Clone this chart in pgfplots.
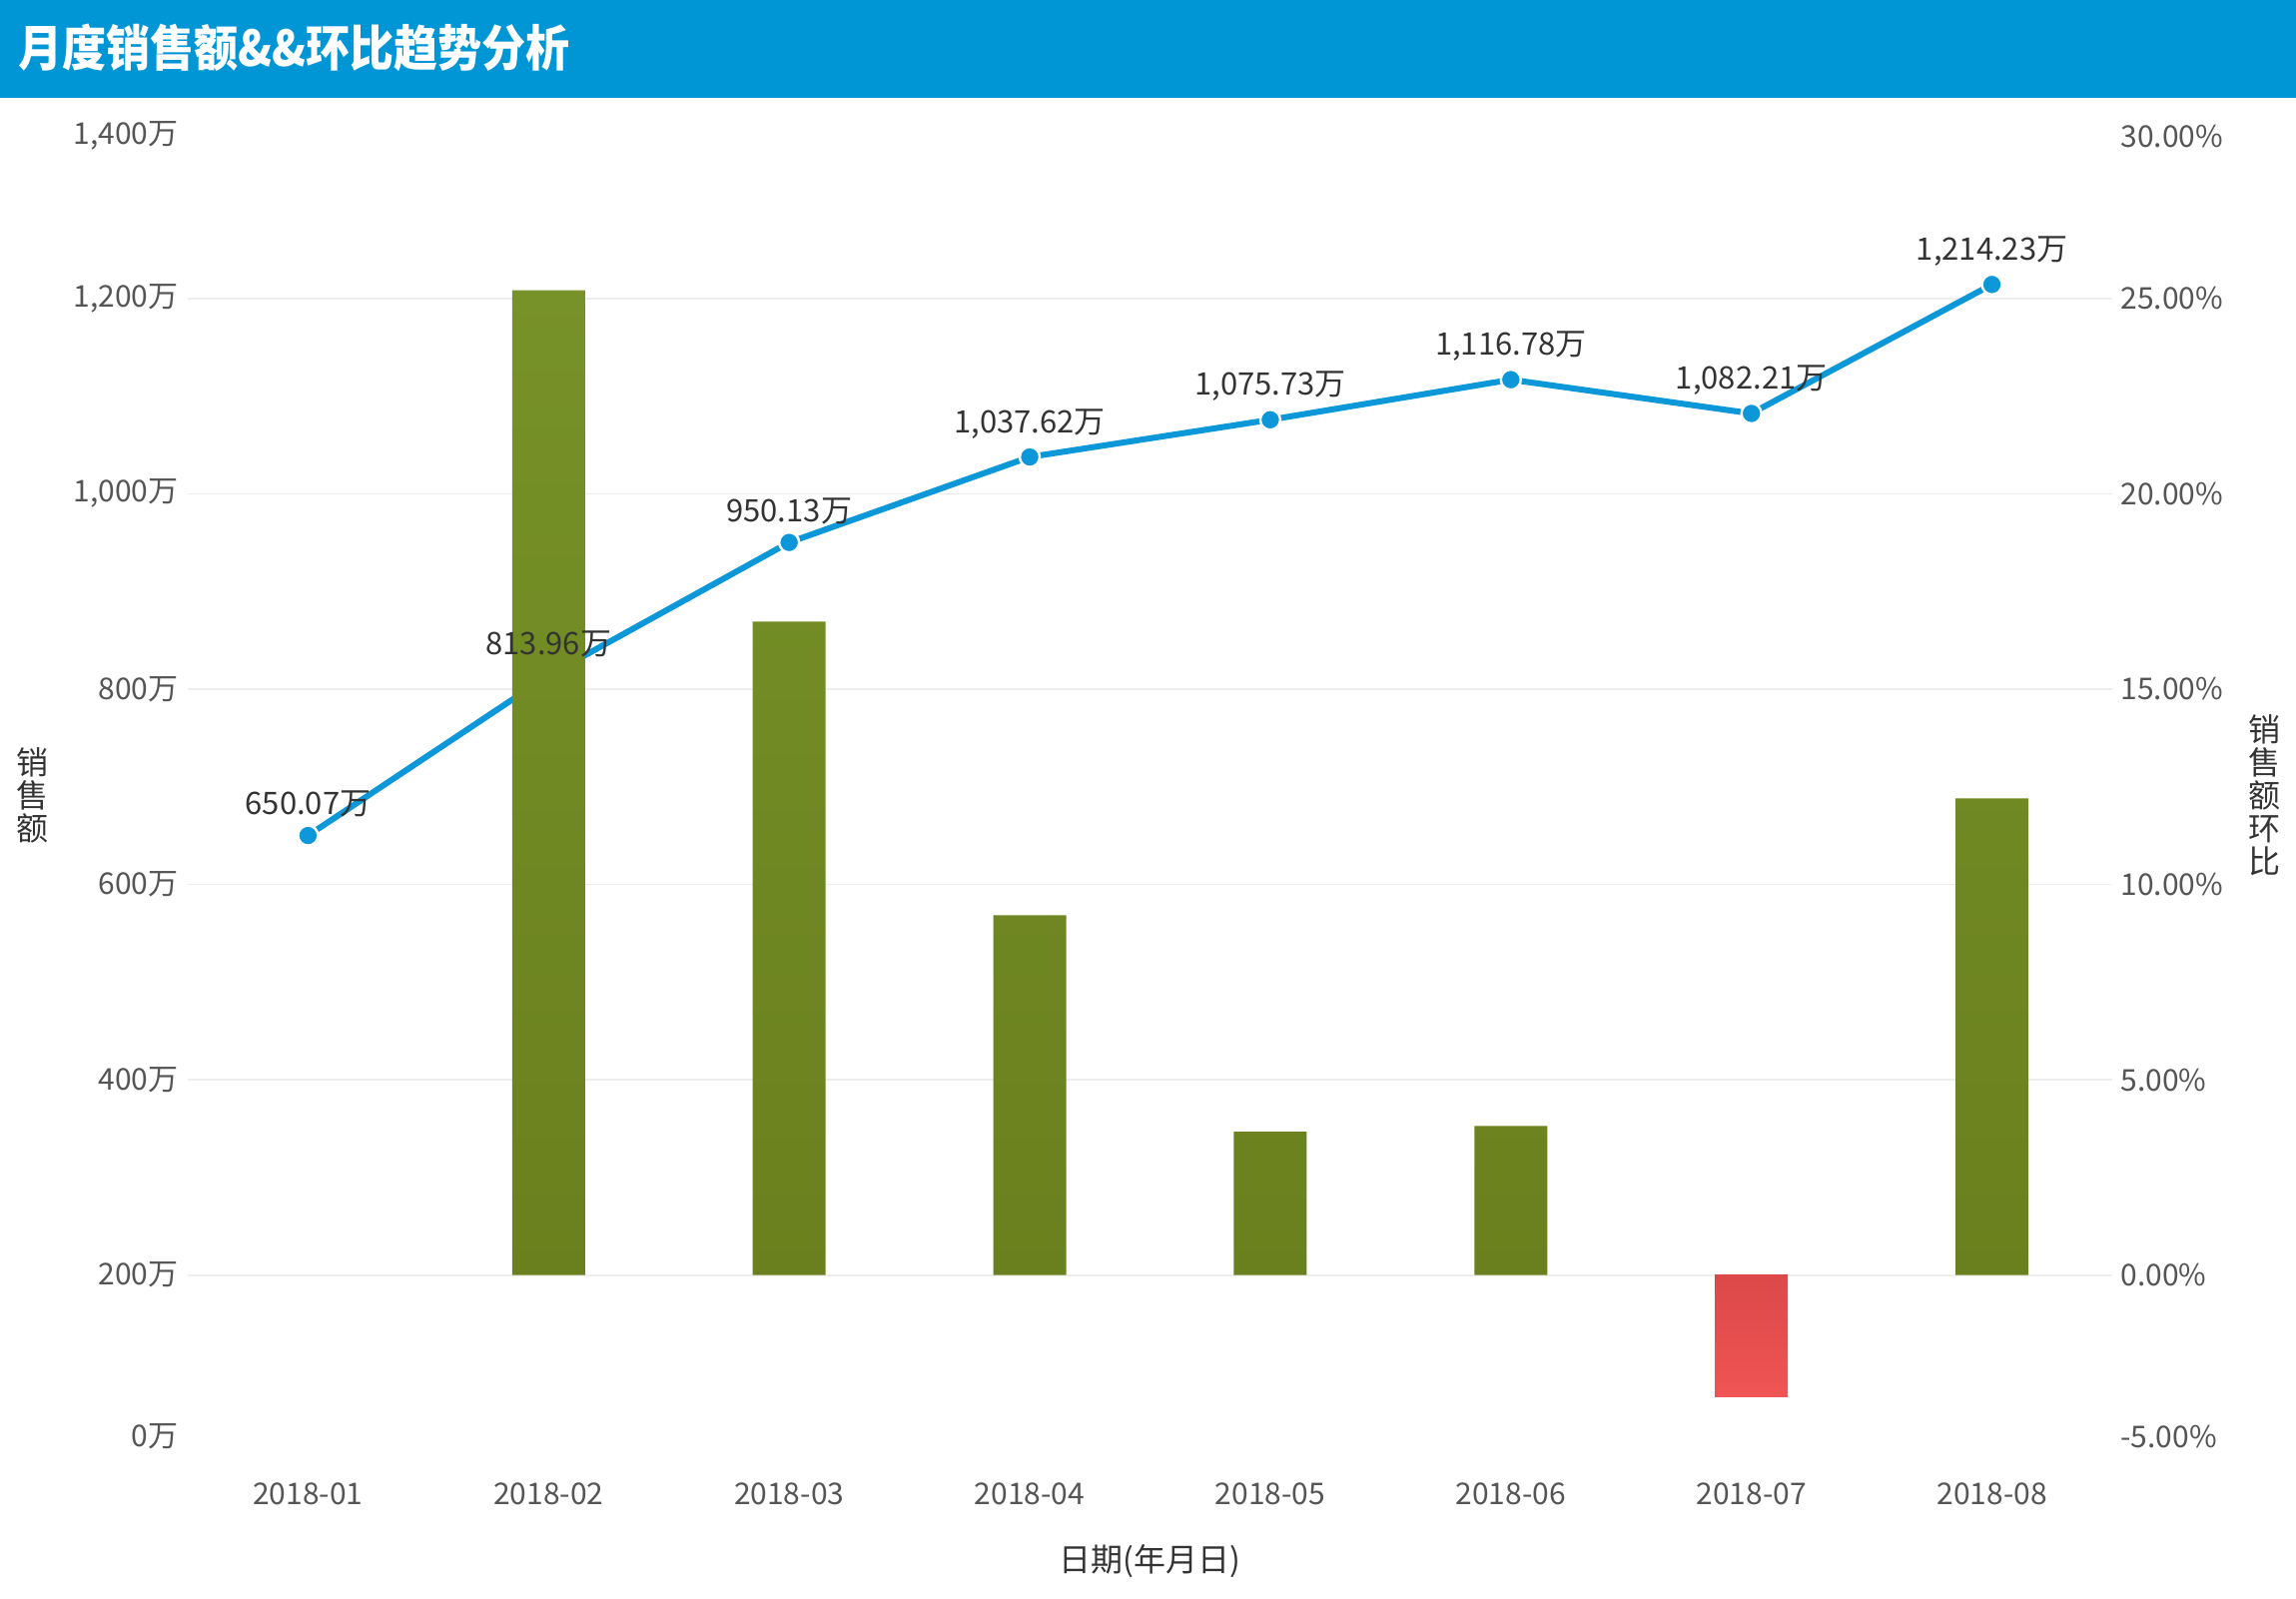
\documentclass[border=0pt]{standalone}
\usepackage{pgfplots}
\pgfplotsset{compat=1.18}
\usepackage{fontspec}
\setmainfont{Noto Sans CJK SC}
\usepackage{graphicx}
\definecolor{titleblue}{RGB}{0,150,214}
\definecolor{lineblue}{RGB}{12,152,216}
\definecolor{gtop}{RGB}{119,146,40}
\definecolor{gbot}{RGB}{106,128,30}
\definecolor{rtop}{RGB}{220,72,72}
\definecolor{rbot}{RGB}{240,84,84}
\definecolor{gridc}{RGB}{238,238,238}
\definecolor{tickc}{RGB}{85,85,85}
\definecolor{labc}{RGB}{51,51,51}
\pgfplotsset{common/.style={at={(94bp,-719bp)}, anchor=south west, scale only axis,
  width=963.5bp, height=651bp, xmin=-0.5, xmax=7.5,
  axis line style={draw=none}, major tick length=0pt, clip=false}}
\begin{document}
\begin{tikzpicture}
\useasboundingbox (0,0) rectangle (1149.5bp,-800.5bp);
\fill[white] (0,0) rectangle (1149.5bp,-800.5bp);
\fill[titleblue] (0,0) rectangle (1149.5bp,-49bp);
\node[anchor=west, text=white, inner sep=0pt, font=\fontsize{22bp}{24bp}\selectfont\bfseries] at (9bp,-24bp) {\scalebox{1}[1.12]{月度销售额\&\&环比趋势分析}};

% line: sales (left axis)
\begin{axis}[common, ymin=35.1, ymax=1366.4,
  xtick={0,1,2,3,4,5,6,7},
  xticklabels={2018-01,2018-02,2018-03,2018-04,2018-05,2018-06,2018-07,2018-08},
  xticklabel style={anchor=north, inner sep=0pt, yshift=-23bp, text=tickc, font=\fontsize{15bp}{17bp}\selectfont},
  ytick={200,400,600,800,1000,1200},
  yticklabels={{200万},{400万},{600万},{800万},{1,000万},{1,200万}},
  extra y ticks={35.1,1366.4},
  extra y tick labels={{0万},{1,400万}},
  extra y tick style={grid=none},
  ymajorgrids, grid style={gridc, line width=0.8bp},
  yticklabel pos=left,
  yticklabel style={anchor=east, inner sep=0pt, xshift=-4.5bp, text=tickc, font=\fontsize{15bp}{17bp}\selectfont}]
\addplot[color=lineblue, line width=3bp, mark=*, mark size=5bp,
  mark options={fill=lineblue, draw=white, line width=1.2bp}]
  coordinates {(0,650.07) (1,813.96) (2,950.13) (3,1037.62) (4,1075.73) (5,1116.78) (6,1082.21) (7,1214.23)};
\end{axis}

% bars: month-over-month ratio (right axis)
\begin{axis}[common, ymin=-4.123, ymax=29.16,
  xtick=\empty,
  ytick={-4.123,0,5,10,15,20,25,29.16},
  yticklabels={{-5.00\%},{0.00\%},{5.00\%},{10.00\%},{15.00\%},{20.00\%},{25.00\%},{30.00\%}},
  yticklabel pos=right,
  yticklabel style={anchor=west, inner sep=0pt, xshift=4bp, text=tickc, font=\fontsize{15bp}{17bp}\selectfont}]
\addplot[ybar, bar width=36.5bp, bar shift=0pt, draw=none, top color=gtop, bottom color=gbot]
  coordinates {(1,25.21) (2,16.73) (3,9.21) (4,3.67) (5,3.82) (7,12.20)};
\addplot[ybar, bar width=36.5bp, bar shift=0pt, draw=none, top color=rtop, bottom color=rbot]
  coordinates {(6,-3.10)};
\end{axis}

% value labels on top
\begin{axis}[common, ymin=35.1, ymax=1366.4, xtick=\empty, ytick=\empty]
\addplot[draw=none, mark=none,
  point meta=explicit symbolic,
  nodes near coords,
  nodes near coords style={anchor=south, inner sep=0pt, yshift=9bp, text=labc, font=\fontsize{15.5bp}{17bp}\selectfont}]
  coordinates {(0,650.07) [650.07万] (1,813.96) [813.96万] (2,950.13) [950.13万] (3,1037.62) [1,037.62万]
               (4,1075.73) [1,075.73万] (5,1116.78) [1,116.78万] (6,1082.21) [1,082.21万] (7,1214.23) [1,214.23万]};
\end{axis}

\node[align=center, inner sep=0pt, text=labc, font=\fontsize{16bp}{16.5bp}\selectfont] at (16bp,-398bp) {销\\售\\额};
\node[align=center, inner sep=0pt, text=labc, font=\fontsize{16bp}{16.5bp}\selectfont] at (1133.5bp,-398bp) {销\\售\\额\\环\\比};
\node[inner sep=0pt, text=labc, font=\fontsize{16bp}{18bp}\selectfont] at (575.75bp,-781.5bp) {日期(年月日)};
\end{tikzpicture}
\end{document}
